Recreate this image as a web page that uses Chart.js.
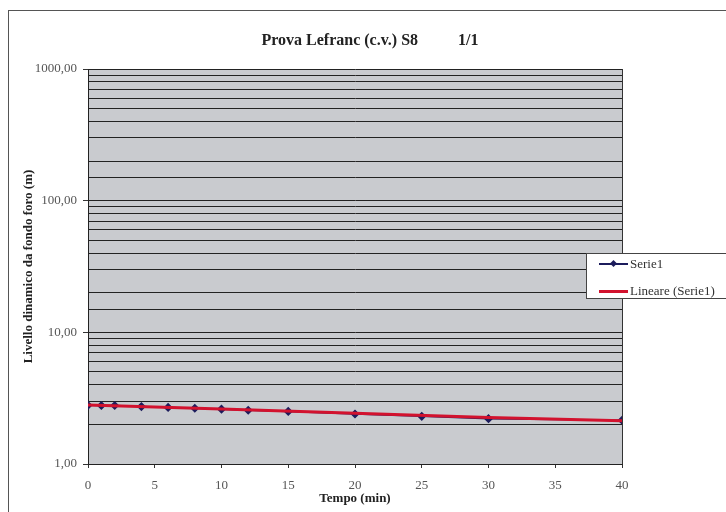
<!DOCTYPE html>
<html>
<head>
  <title>Prova Lefranc</title>
  <script src="https://cdn.jsdelivr.net/npm/chart.js@4.4.0/dist/chart.umd.min.js"></script>
  <style>
    body { margin: 0; background: #fff; }
    #wrap { position: relative; width: 726px; height: 512px; overflow: hidden; }
    #frame { position: absolute; left: 8px; top: 10px; width: 740px; height: 540px; border: 1px solid #555; }
    #title { position: absolute; left: 0; width: 740px; top: 31px; text-align: center;
      font: bold 16px "Liberation Serif", serif; color: #222; white-space: pre; }
    #legend { position: absolute; left: 586px; top: 253px; width: 145px; height: 44px;
      background: #fff; border: 1px solid #444; font: 13px "Liberation Serif", serif; color: #333; }
    .row { position: absolute; left: 12px; height: 14px; line-height: 14px; white-space: nowrap; }
    .sample { display: inline-block; position: relative; width: 31px; height: 14px; vertical-align: top; }
  </style>
</head>
<body>
  <div id="wrap">
    <canvas id="lefranc" width="726" height="512"></canvas>
    <div id="frame"></div>
    <div id="title">Prova Lefranc (c.v.) S8          1/1</div>
    <div id="legend"></div>
  </div>

  <script>
    // Serie1 - misure
    var tempo = [0, 1, 2, 4, 6, 8, 10, 12, 15, 20, 25, 30, 40];
    var livello = [2.79, 2.78, 2.78, 2.73, 2.69, 2.65, 2.61, 2.56, 2.51, 2.40, 2.30, 2.21, 2.15];
    // Lineare (Serie1)
    var trendTempo = [0, 10, 20, 30, 40];
    var trendLivello = [2.80, 2.62, 2.43, 2.26, 2.13];
    var xTicks = [0, 5, 10, 15, 20, 25, 30, 35, 40];

    var navy = '#1c1c5c';
    var red = '#d2122e';

    function isDecade(v) {
      var l = Math.log10(v);
      return Math.abs(l - Math.round(l)) < 1e-9;
    }

    var plotBg = {
      id: 'plotBg',
      beforeDraw: function(chart) {
        var a = chart.chartArea, c = chart.ctx;
        c.save();
        c.fillStyle = '#c9cbcf';
        c.fillRect(a.left, a.top, a.right - a.left, a.bottom - a.top);
        c.restore();
      },
      beforeDatasetsDraw: function(chart) {
        var a = chart.chartArea, c = chart.ctx;
        c.save();
        c.strokeStyle = '#333';
        c.lineWidth = 1;
        c.beginPath();
        c.moveTo(a.right + 0.5, a.top);
        c.lineTo(a.right + 0.5, a.bottom);
        c.stroke();
        c.restore();
      }
    };

    var serif = '"Liberation Serif", serif';

    var chart = new Chart(document.getElementById('lefranc').getContext('2d'), {
      type: 'line',
      data: {
        datasets: [{
          label: 'Serie1',
          data: tempo.map(function(t, i) { return { x: t, y: livello[i] }; }),
          borderColor: navy,
          backgroundColor: navy,
          borderWidth: 1.5,
          pointStyle: 'rectRot',
          pointRadius: 3.5,
          order: 2
        }, {
          label: 'Lineare (Serie1)',
          data: trendTempo.map(function(t, i) { return { x: t, y: trendLivello[i] }; }),
          borderColor: red,
          borderWidth: 3,
          pointRadius: 0,
          order: 1
        }]
      },
      options: {
        responsive: false,
        animation: false,
        layout: { padding: { left: 10, right: 104, top: 69, bottom: 0 } },
        plugins: { legend: { display: false }, tooltip: { enabled: false } },
        scales: {
          x: {
            type: 'linear',
            min: 0,
            max: 40,
            afterFit: function(s) { s.height = 48; },
            afterBuildTicks: function(s) { s.ticks = xTicks.map(function(v) { return { value: v }; }); },
            ticks: { font: { family: serif, size: 13 }, color: '#555', padding: 10 },
            grid: { drawOnChartArea: false, tickLength: 4, color: '#333' },
            border: { color: '#222', width: 1 },
            title: { display: true, text: 'Tempo (min)', font: { family: serif, size: 13, weight: 'bold' },
                     color: '#222', padding: { top: 0, bottom: 6 } }
          },
          y: {
            type: 'logarithmic',
            min: 1,
            max: 1000,
            afterFit: function(s) { s.width = 78; },
            ticks: {
              autoSkip: false,
              font: { family: serif, size: 13 },
              color: '#555',
              padding: 6,
              callback: function(v) { return isDecade(v) ? v.toFixed(2).replace('.', ',') : ''; }
            },
            grid: {
              color: '#222',
              lineWidth: 1,
              tickLength: 5,
              tickColor: function(ctx) { return ctx.tick && isDecade(ctx.tick.value) ? '#333' : 'rgba(0,0,0,0)'; }
            },
            border: { color: '#222', width: 1 },
            title: { display: true, text: 'Livello dinamico da fondo foro (m)',
                     font: { family: serif, size: 13, weight: 'bold' }, color: '#222', padding: { top: 11 } }
          }
        }
      },
      plugins: [plotBg]
    });

    // legenda
    var legend = document.getElementById('legend');
    chart.data.datasets.forEach(function(ds, i) {
      var row = document.createElement('div');
      row.className = 'row';
      row.style.top = (3 + i * 27) + 'px';
      var sample = document.createElement('span');
      sample.className = 'sample';
      var line = document.createElement('span');
      line.style.cssText = 'position:absolute;left:0;width:29px;top:' + (7 - ds.borderWidth / 2) + 'px;height:' +
        ds.borderWidth + 'px;background:' + ds.borderColor;
      sample.appendChild(line);
      if (ds.pointRadius) {
        var dot = document.createElement('span');
        dot.style.cssText = 'position:absolute;left:12px;top:4px;width:5px;height:5px;transform:rotate(45deg);background:' + ds.borderColor;
        sample.appendChild(dot);
      }
      row.appendChild(sample);
      row.appendChild(document.createTextNode(ds.label));
      legend.appendChild(row);
    });
  </script>
</body>
</html>
